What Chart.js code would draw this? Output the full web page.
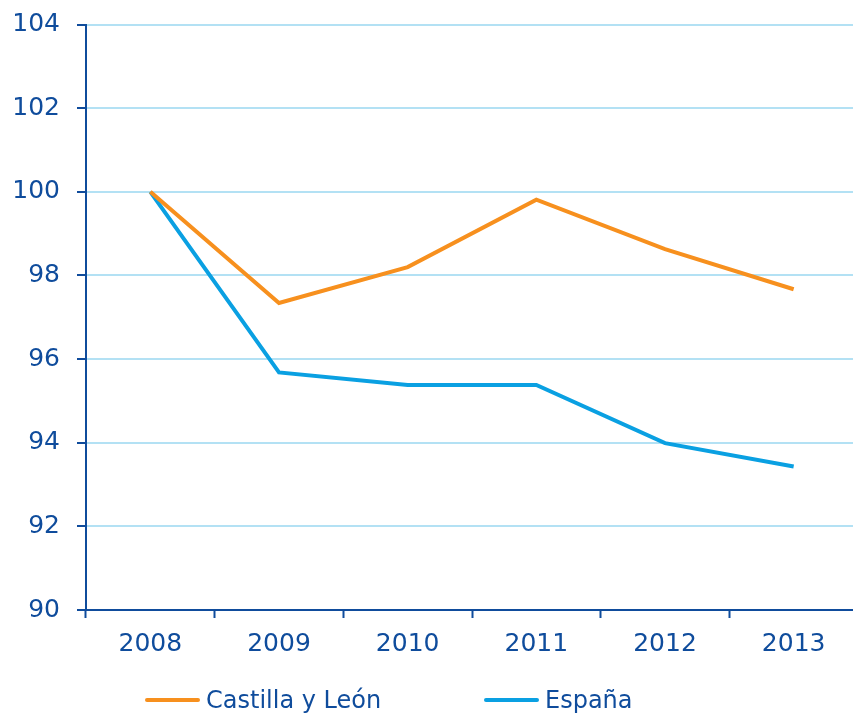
<!DOCTYPE html>
<html>
<head>
<meta charset="utf-8">
<script src="https://cdn.jsdelivr.net/npm/chart.js@4.4.1/dist/chart.umd.min.js"></script>
<style>
  html, body { margin: 0; padding: 0; background: #fff; overflow: hidden; }
  #wrap { position: relative; width: 853px; height: 713px; overflow: hidden; }
  #box { position: absolute; left: 0; top: 0; width: 858px; height: 713px; }
  #legend {
    position: absolute; left: 0; top: 685px; height: 30px; width: 853px;
    font-family: "DejaVu Sans", sans-serif; font-size: 24px; color: #0f4c9c;
  }
  .item { position: absolute; top: 0; display: flex; align-items: center; height: 30px; }
  .swatch { width: 55px; height: 4px; border-radius: 2px; margin-right: 6px; }
</style>
</head>
<body>
<div id="wrap">
  <div id="box"><canvas id="chart"></canvas></div>
  <div id="legend"></div>
</div>
<script>
// index values, 2008 = 100
const years = ['2008', '2009', '2010', '2011', '2012', '2013'];
const castillaLeon = [100, 97.34, 98.2, 99.81, 98.63, 97.67];
const espana = [100, 95.68, 95.38, 95.38, 93.99, 93.43];
const yTicks = [90, 92, 94, 96, 98, 100, 102, 104];

const DARK = '#0f4c9c';
const GRID = '#b3e1f4';
const ORANGE = '#f7901e';
const CYAN = '#0aa0e2';
const FONT = '"DejaVu Sans", sans-serif';

const series = [
  { label: 'Castilla y León', data: castillaLeon, color: ORANGE, x: 145 },
  { label: 'España', data: espana, color: CYAN, x: 484 },
];

const chart = new Chart(document.getElementById('chart'), {
  type: 'line',
  data: {
    labels: years,
    datasets: series.map(s => ({
      label: s.label,
      data: s.data,
      borderColor: s.color,
      backgroundColor: s.color,
      borderWidth: 4,
      pointRadius: 0,
      tension: 0,
      fill: false,
    })),
  },
  options: {
    responsive: true,
    maintainAspectRatio: false,
    animation: false,
    layout: { padding: { top: 20, left: 10, right: 0, bottom: 43 } },
    plugins: { legend: { display: false }, tooltip: { enabled: false } },
    scales: {
      x: {
        offset: true,
        grid: {
          offset: true,
          drawOnChartArea: false,
          tickLength: 8,
          tickColor: DARK,
          tickWidth: 2,
        },
        border: { color: DARK, width: 2 },
        ticks: { color: DARK, font: { family: FONT, size: 25 }, padding: 11 },
      },
      y: {
        min: 90,
        max: 104,
        afterBuildTicks: (axis) => { axis.ticks = yTicks.map(v => ({ value: v })); },
        afterFit: (axis) => { axis.width = 76; },
        grid: { color: GRID, lineWidth: 2, tickLength: 9, tickColor: DARK, tickWidth: 2 },
        border: { color: DARK, width: 2 },
        ticks: { color: DARK, font: { family: FONT, size: 25, lineHeight: 0.6 }, padding: 17 },
      },
    },
  },
});

// legend drawn as html below the canvas
const legend = document.getElementById('legend');
series.forEach(s => {
  const item = document.createElement('div');
  item.className = 'item';
  item.style.left = s.x + 'px';
  item.innerHTML = '<span class="swatch" style="background:' + s.color + '"></span><span>' + s.label + '</span>';
  legend.appendChild(item);
});
</script>
</body>
</html>
